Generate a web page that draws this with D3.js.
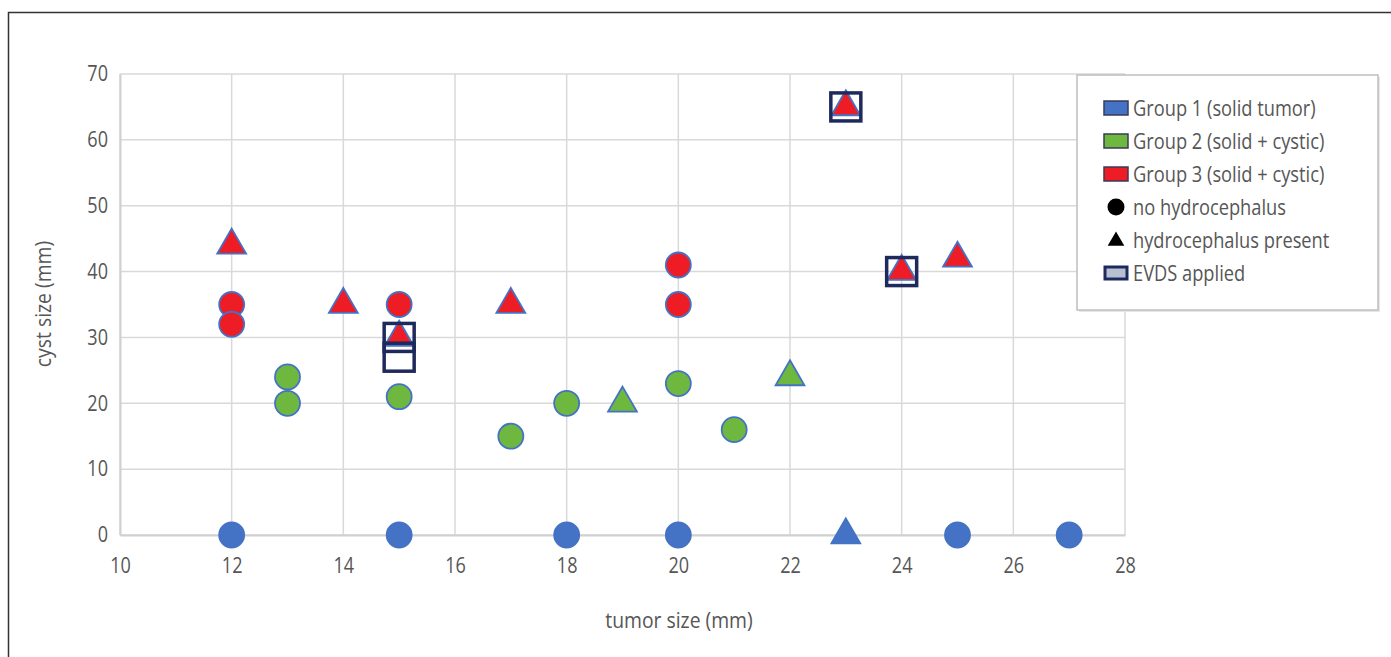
<!DOCTYPE html>
<html>
<head>
<meta charset="utf-8">
<script src="https://cdn.jsdelivr.net/npm/d3@7"></script>
<style>
  body { margin: 0; background: #fff; }
  svg text { font-family: "Open Sans", "Noto Sans", sans-serif; }
</style>
</head>
<body>
<div id="chart"></div>
<script>
// Axis ticks
const xTicks = [10, 12, 14, 16, 18, 20, 22, 24, 26, 28];
const yTicks = [0, 10, 20, 30, 40, 50, 60, 70];

// Group 1 (solid tumor)
const group1Circles = [[12, 0], [15, 0], [18, 0], [20, 0], [25, 0], [27, 0]];
const group1Triangles = [[23, 0]];

// Group 2 (solid + cystic)
const group2Circles = [[13, 24], [13, 20], [15, 21], [17, 15], [18, 20], [20, 23], [21, 16]];
const group2Triangles = [[19, 20], [22, 24]];

// Group 3 (solid + cystic)
const group3Circles = [[12, 35], [12, 32], [15, 35], [20, 41], [20, 35]];
const group3Triangles = [[12, 44], [14, 35], [15, 30], [17, 35], [23, 65], [24, 40], [25, 42]];

// EVDS applied
const evds = [[15, 30], [15, 27], [23, 65], [24, 40]];

const legendLabels = [
  "Group 1 (solid tumor)",
  "Group 2 (solid + cystic)",
  "Group 3 (solid + cystic)",
  "no hydrocephalus",
  "hydrocephalus present",
  "EVDS applied"
];

const blue = "#4472c4", green = "#6fb83f", red = "#ee1c25", navy = "#1f2a5c";
const textCol = "#565656";
const sx = 0.86; // text in the picture is a bit narrow

const W = 1391, H = 657;
const margin = { top: 74, right: 266, bottom: 122, left: 120 };
const width = W - margin.left - margin.right;
const height = H - margin.top - margin.bottom;

const svg = d3.select("#chart").append("svg")
  .attr("width", W)
  .attr("height", H);

// outer frame (runs off the right and bottom edges)
svg.append("rect")
  .attr("x", 8.5).attr("y", 12.5)
  .attr("width", W).attr("height", H)
  .attr("fill", "none")
  .attr("stroke", "#333")
  .attr("stroke-width", 1.5);

const g = svg.append("g").attr("transform", `translate(${margin.left},${margin.top})`);

const x = d3.scaleLinear().domain([10, 28]).range([0, width]);
const y = d3.scaleLinear().domain([0, 70]).range([height, 0]);

// gridlines
g.append("g").selectAll("line").data(yTicks).join("line")
  .attr("x1", 0).attr("x2", width)
  .attr("y1", d => y(d)).attr("y2", d => y(d))
  .attr("stroke", "#d9d9d9").attr("stroke-width", 1.5);
g.append("g").selectAll("line").data(xTicks).join("line")
  .attr("y1", 0).attr("y2", height)
  .attr("x1", d => x(d)).attr("x2", d => x(d))
  .attr("stroke", "#d9d9d9").attr("stroke-width", 1.5);

// axes
const xAxis = g.append("g")
  .attr("transform", `translate(0,${height})`)
  .call(d3.axisBottom(x).tickValues(xTicks).tickSize(0).tickPadding(23));
const yAxis = g.append("g")
  .call(d3.axisLeft(y).tickValues(yTicks).tickSize(0).tickPadding(14));
[xAxis, yAxis].forEach(a => {
  a.select(".domain").attr("stroke", "#d0d0d0").attr("stroke-width", 2);
  a.selectAll("text").attr("font-size", 21).attr("fill", textCol)
    .attr("font-family", "\"Open Sans\", sans-serif")
    .attr("transform", `scale(${sx},1)`);
});

// axis titles
svg.append("text")
  .attr("transform", `translate(679,628) scale(${sx},1)`)
  .attr("text-anchor", "middle")
  .attr("font-size", 22.5).attr("fill", textCol)
  .text("tumor size (mm)");
svg.append("text")
  .attr("transform", `translate(51,304) rotate(-90) scale(${sx},1)`)
  .attr("text-anchor", "middle")
  .attr("font-size", 22.5).attr("fill", textCol)
  .text("cyst size (mm)");

const tri = d3.symbol().type(d3.symbolTriangle).size(360);

function circles(data, fill, stroke) {
  g.append("g").selectAll("circle").data(data).join("circle")
    .attr("cx", d => x(d[0])).attr("cy", d => y(d[1]))
    .attr("r", 12.5)
    .attr("fill", fill)
    .attr("stroke", stroke).attr("stroke-width", 1.8);
}
function triangles(data, fill, stroke) {
  g.append("g").selectAll("path").data(data).join("path")
    .attr("d", tri)
    .attr("transform", d => `translate(${x(d[0])},${y(d[1])})`)
    .attr("fill", fill)
    .attr("stroke", stroke).attr("stroke-width", 1.8);
}

circles(group1Circles, blue, blue);
triangles(group1Triangles, blue, blue);
circles(group2Circles, green, blue);
triangles(group2Triangles, green, blue);
circles(group3Circles, red, blue);
triangles(group3Triangles, red, blue);

// EVDS squares
g.append("g").selectAll("rect").data(evds).join("rect")
  .attr("x", d => x(d[0]) - 15).attr("y", d => y(d[1]) - 14)
  .attr("width", 30).attr("height", 28)
  .attr("fill", "none")
  .attr("stroke", navy).attr("stroke-width", 3.5);

// legend
const lg = svg.append("g").attr("transform", "translate(1077,75)");
lg.append("rect")
  .attr("x", 2).attr("y", 2).attr("width", 301).attr("height", 235)
  .attr("fill", "#e6e6e6");
lg.append("rect")
  .attr("width", 301).attr("height", 235)
  .attr("fill", "#fff")
  .attr("stroke", "#bfbfbf").attr("stroke-width", 1.5);

const rowY = i => 33 + i * 33;
const swatchFill = [blue, green, red];
legendLabels.forEach((label, i) => {
  const cy = rowY(i);
  if (i < 3) {
    lg.append("rect")
      .attr("x", 27).attr("y", cy - 7).attr("width", 24).attr("height", 14)
      .attr("fill", swatchFill[i]).attr("stroke", "#3a3a5a").attr("stroke-width", 1.5);
  } else if (i === 3) {
    lg.append("circle").attr("cx", 39).attr("cy", cy).attr("r", 8.5).attr("fill", "#000");
  } else if (i === 4) {
    lg.append("path")
      .attr("d", d3.symbol().type(d3.symbolTriangle).size(120))
      .attr("transform", `translate(39,${cy + 1})`)
      .attr("fill", "#000");
  } else {
    lg.append("rect")
      .attr("x", 28).attr("y", cy - 6).attr("width", 22).attr("height", 12)
      .attr("fill", "#b8bfd0").attr("stroke", navy).attr("stroke-width", 3);
  }
  lg.append("text")
    .attr("transform", `translate(56,${cy}) scale(0.85,1)`)
    .attr("dy", "0.35em")
    .attr("font-size", 21.5).attr("fill", textCol)
    .text(label);
});
</script>
</body>
</html>
